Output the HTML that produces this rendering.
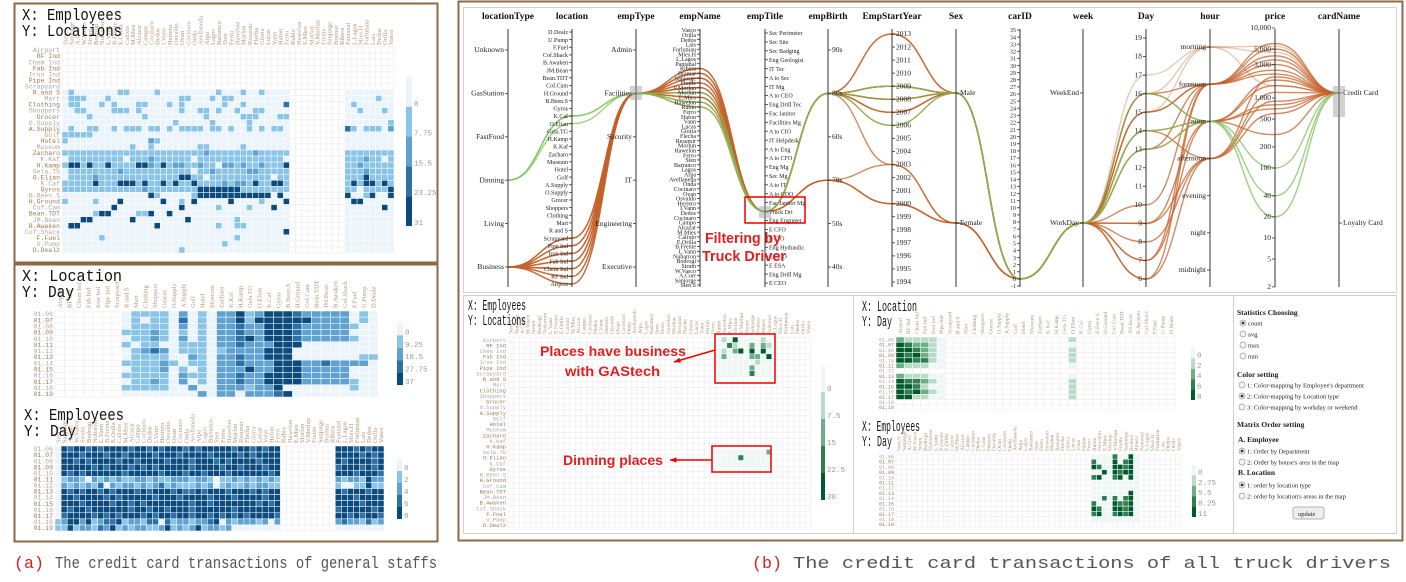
<!DOCTYPE html>
<html><head><meta charset="utf-8">
<style>
html,body{margin:0;padding:0;background:#fff;}
svg{display:block;}
text{font-family:"Liberation Serif","Noto Serif CJK SC",serif;}
.mono{font-family:"Liberation Mono","Noto Sans CJK SC",monospace;}
.sans{font-family:"Liberation Sans","Noto Sans CJK SC",sans-serif;}
</style></head>
<body>
<svg id="chart" width="1406" height="582" viewBox="0 0 1406 582" xmlns="http://www.w3.org/2000/svg">
  <rect x="0" y="0" width="1406" height="582" fill="#fff"/>
  <rect x="14.5" y="3.5" width="423" height="259" fill="#fff" stroke="#8b6a45" stroke-width="2"/>
  <rect x="14.5" y="264.5" width="423" height="277" fill="#fff" stroke="#8b6a45" stroke-width="2"/>
  <rect x="458.5" y="1.5" width="944" height="539" fill="#fff" stroke="#8b6a45" stroke-width="2"/>
  <rect x="463.5" y="7.5" width="933" height="285" fill="#fff" stroke="#d0d0d0" stroke-width="1"/>
  <rect x="463.5" y="295.5" width="390" height="238" fill="#fff" stroke="#d0d0d0"/>
  <rect x="853.5" y="295.5" width="380" height="238" fill="#fff" stroke="#d0d0d0"/>
  <rect x="1233.5" y="295.5" width="163" height="238" fill="#fff" stroke="#d0d0d0"/>
  <g id="content"></g>
</svg>
<script>
// ---------------- DATA ----------------
const locations = ["Airport","RF Ind","Chem Ind","Fab Ind","Iron Ind","Pipe Ind","Scrapyard","R and S","Mart","Clothing","Shoppers","Grocer","O.Supply","A.Supply","Golf","Hotel","Museum","Zacharo","K.Kaf","H.Kamp","Gela.TG","O.Elian","K.Caf","Gyros","B.Been.S","H.Ground","Cof.Cam","Bean.TDT","JM.Bean","B.Awaken","Cof.Shack","F.Fuel","U.Pump","D.Dealz"];
const employees = ["Sten.S","Sanjorge","A.Corr","W.Vasco","Strum","Bodrogi","Nubarron","L.Vann","B.Frente","E.Orilla","Calixto","M.Mies","Alcazar","Campo","Cocinaro","Dedos","I.Vann","Herrero","Osvaldo","Ovan","Cocinaro","Onda","Avellaneda","Arpa","Lagos","Barranco","Sten","Ferro","Hawelon","Morlun","Resumir","Flecha","Gloria","Lucas","Vann","Hafon","Ferro","Rubio","Hawelon","E.Mies","Morlun","V.Morlun","Frente","Sanjorge","Bramar","Ribera","Pantanal","L.Lagos","Mies.H","Forluniau","Lais","Dedos","Orilla","Vasco"];
const days = ["01.06","01.07","01.08","01.09","01.10","01.11","01.12","01.13","01.14","01.15","01.16","01.17","01.18","01.19"];

const aTopA = ["","","","","","","",
"0100000001100001000000000100010010000","0111000100000000000110001011000000000","0110001010001100010100000010010000003",
"0011000011101000000100110100100110000","0000100000000100000000010000011100011","0000000000000000001000001000001000000",
"0100110010111011010111101101001010110","1111100000000000000000000000000000000","1000000000000021000000000000000000000",
"0000000000010010000000110000010000000","1111111111111111111111121111111211111","0111111111011121111110111111111111110",
"1441411411114421412211211022121121114","0111111112111111111110112111112211111","0111121111111111111441101111111111011",
"1111141114441411414114111121221411441","1111111111111211111111444444411111111","0000000000000041000001444444444444040",
"1000010004000000400104000004000010004","0000000040000000000400000100001000400","0000014400001140040000000000000000000",
"0004400000040000000040000000100000000","0440000000000004000000000100110000000","0000000000000000000000000000000000004",
"0000001000000000000000000000100000000","0000000000000000000000000010000000000","0000000000000000000100000000000000000"];
const aTopB = ["","","","","","","",
"00000000","00000100","01000000","00100010","00000000","00000001","31011102","00000000","00000000","00000000",
"11111111","11121101","11211111","11121111","11141111","14144141","11011114","40014004","04400000","00000040",
"00000000","00000000","00000000","00000000","00000000","00000000","00000000"];

const aLocDay = ["0111102010224124443222220103","0101103010224144444422220100","0111102010223224443222221000",
"1112101010223224443222220000","0112102010223424443222221000","1011001110223222444000000000",
"0123201110122224440000000000","0111100210223224440000000110","1111210110223222444223222200",
"0111201010222422444222220000","1111102110223224444222220000","0112102010223224444222221000",
"1111100200222122400000001000","0000000020220222340000000000"];

const aEmpDayA = ["0434434344443443434443434444434434344","0444344434434444344434444344443434444","0443434444344344443444344434344443444",
"0444443434443434344444344443443444344","0434344444434444434443443444344444434","0122102121211221211222122101121212121",
"0212121302122121231211121201211212211","0434344343444343444343343444344434344","0443444434344444344434444344434444344",
"0444344443443434444444344344444443434","0434434444443443443444344444434444444","0344443434344434344344344343434344443",
"1244241233412213303122122340212221202","1141221324121221124121241221200000000"];
const aEmpDayB = ["44434344","44443434","43444434","34443434","44434443","21221422","10011411","43444344","44434444",
"44443444","34444434","44343443","23221312","00000000"];

const bEmpLocBlocks = [
 {row:0,col:37,rows:["0104000010","0031002021","0102404040","0200002204","0000000100","0000002000","0000003000"]},
 {row:20,col:36,rows:["00000000002","00000300000","00000000000"]}];
const bLocDayBlocks = [
 {row:0,col:0,rows:["211110","432210","443210","434210","443310","211100"]},
 {row:7,col:0,rows:["211100","433210","443100","434210","441100"]},
 {row:0,col:21,rows:["1","0","1","1","1","0"]},
 {row:7,col:21,rows:["0","1","1","1","1"]}];
const bEmpDayBlocks = [
 {row:0,col:37,rows:["000030040","300040340","430044340","004043440","340034040","000000000","000000000"]},
 {row:7,col:37,rows:["000000040","003030340","300043340","430044340","340034340","000000000"]}];

const pcAxes = ["locationType","location","empType","empName","empTitle","empBirth","EmpStartYear","Sex","carID","week","Day","hour","price","cardName"];
const locTypes = ["Unknown","GasStation","FastFood","Dinning","Living","Business"];
const empTypes = ["Admin","Facilities","Security","IT","Engineering","Executive"];
const empTitles = ["Sec Perimeter","Sec Site","Sec Badging","Eng Geologist","IT Tec","A to Sec","IT Mg","A to CEO","Eng Drill Tec","Fac Janitor","Facilities Mg","A to CIO","IT Helpdesk","A to Eng","A to CFO","Eng Mg","Sec Mg","A to IT","A to COO","Fac Janitor Mg","Truck Dri","Eng Engineer","E CFO","E CIO","Eng Hydraulic","E COO","E ESA","Eng Drill Mg","E CEO"];
const births = ["90s","80s","60s","70s","50s","40s"];
const startYears = [2013,2012,2011,2010,2009,2008,2007,2006,2005,2004,2003,2002,2001,2000,1999,1998,1997,1996,1995,1994];
const sexes = ["Male","Female"];
const carIds = [35,34,33,32,31,30,29,28,27,26,25,24,23,22,21,20,19,18,17,16,15,14,13,12,11,10,9,8,7,6,5,4,3,2,1,0,-1];
const weeks = ["WeekEnd","WorkDay"];
const dayNums = [19,18,17,16,15,14,13,12,11,10,9,8,7,6];
const hours = ["morning","forenoon","noon","afternoon","evening","night","midnight"];
const priceTicks = [10000,5000,3000,1000,500,200,100,40,20,10,5,2];
const cards = ["Credit Card","Loyalty Card"];
const records = [
[5,27,8,1,2009,0,0,1,16,1,3000,0],[5,28,9,1,2009,0,0,1,15,1,5000,0],[5,29,10,1,2008,0,0,1,14,2,1500,0],
[5,30,11,3,2000,1,0,1,13,2,800,0],[5,31,12,1,2007,0,0,1,9,3,2000,0],[5,32,13,3,2003,1,0,1,8,3,1200,0],
[5,33,14,1,2013,0,0,1,7,1,4000,0],[5,28,15,1,2006,0,0,1,6,3,600,0],[5,29,16,1,2008,0,0,1,10,1,2500,0],
[5,27,9,3,2000,1,0,1,16,2,300,0],[5,30,10,1,2007,0,0,1,15,1,6000,0],[5,32,12,1,2009,0,0,1,9,2,1800,0],
[5,31,8,1,2013,0,0,1,14,3,900,0],[5,29,14,1,2003,1,0,1,13,1,3500,0],[5,33,11,3,2000,1,0,1,7,2,700,0],
[5,27,13,1,2009,0,0,1,6,1,2200,0],[3,11,15,1,2008,0,0,1,16,2,40,0],[3,12,16,1,2006,0,0,1,13,2,20,0],
[5,28,9,1,2009,0,0,1,17,0,5500,0],[5,30,10,1,2007,0,0,1,15,0,4500,0],[5,31,12,1,2008,0,0,1,16,0,1500,0],
[3,11,13,1,2009,0,0,1,14,2,100,0]];

// ---------------- DRAWING ----------------
const NS='http://www.w3.org/2000/svg';
const root=document.getElementById('content');
function mk(tag,attrs,parent){const e=document.createElementNS(NS,tag);for(const k in attrs)e.setAttribute(k,attrs[k]);(parent||root).appendChild(e);return e;}
function txt(s,attrs,parent){const t=mk('text',attrs,parent);t.textContent=s;return t;}
function grp(name){const g=mk('g',{});return g;}

const blues=['#eaf4fa','#8ac4e6','#5fa2d0','#2c72aa','#0b4a7c'];
const greens=['#eef7f6','#b9dcc9','#6cae88','#2f7f50','#005a2b'];

function heat(name,x0,y0,w,h,nR,nC,get,pal){
  const g=grp(name);
  const cw=w/nC,ch=h/nR;
  for(let r=0;r<nR;r++)for(let c=0;c<nC;c++){
    const v=get(r,c);
    const rc=mk('rect',{x:(x0+c*cw).toFixed(2),y:(y0+r*ch).toFixed(2),width:cw.toFixed(2),height:ch.toFixed(2),
      fill:v==null?'#fff':pal[v],stroke:v==null?'#ebebeb':'#fff','stroke-width':0.5},g);
    
    
  }
  return {g,cw,ch};
}
function splitGet(A,B){return (r,c)=>{let s,i;if(c<37){s=A[r];i=c;}else if(c>=46){s=B[r];i=c-46;}else return null;const k=s?s[i]:undefined;return (k===undefined||k==='.')?null:+k;};}
function blockGet(blocks){return (r,c)=>{for(const b of blocks){const rr=r-b.row,cc=c-b.col;if(rr>=0&&rr<b.rows.length&&cc>=0&&cc<b.rows[rr].length)return +b.rows[rr][cc];}return null;};}
function colLabels(name,x0,y0,cw,labels,fs){
  const g=grp(name);
  labels.forEach((l,i)=>{const x=x0+i*cw+cw/2+fs*0.35;
    const t=txt(l,{x:x,y:y0,'font-size':fs,fill:i%2?'#b8906a':'#b0a090',transform:`rotate(-90 ${x} ${y0})`},g);
    
    });
}
function rowLabels(name,x,y0,ch,labels,fs){
  const g=grp(name);
  labels.forEach((l,i)=>{const t=txt(l,{x:x,y:y0+i*ch+ch*0.85,'font-size':fs,'text-anchor':'end',fill:i%2?'#a07850':'#a8a8a8',class:'mono'},g);
    
    });
}
function legend(name,x,y,w,h,pal,labels){
  const g=grp(name);
  const sh=h/5;
  pal.forEach((c,i)=>{const r=mk('rect',{x:x,y:y+i*sh,width:w,height:sh,fill:c},g);
    
    });
  labels.forEach((l,i)=>{const t=txt(l,{x:x+w+2,y:y+(i+1)*sh-1,'font-size':7.5,fill:'#999',class:'mono'},g);
    
    });
}
function heading(name,s,x,y,fs,len){
  const t=txt(s,{x:x,y:y,'font-size':fs,fill:'#111',class:'mono',textLength:len,lengthAdjust:'spacingAndGlyphs'});
  
  
}

heat('a-emp-loc-heatmap',62,47,332,206,34,54,splitGet(aTopA,aTopB),blues);
colLabels('a-emp-loc-col-labels',62,45,332/54,employees,6.5);
rowLabels('a-emp-loc-row-labels',60,47,206/34,locations,6.5);
legend('a-emp-loc-legend',406,77,6,149,blues,['0','7.75','15.5','23.25','31']);
heading('a-top-x-title','X: Employees',22,20,17,100);
heading('a-top-y-title','Y: Locations',22,36,17,100);

heat('a-loc-day-heatmap',55,311,323,86,14,34,(r,c)=>{if(c<7)return null;const k=aLocDay[r][c-7];return k===undefined?null:+k;},blues);
colLabels('a-loc-day-col-labels',55,308,323/34,locations,6.5);
rowLabels('a-loc-day-row-labels',53,311,86/14,days,6.5);
legend('a-loc-day-legend',397,323,6,62,blues,['0','9.25','18.5','27.75','37']);
heading('a-mid-x-title','X: Location',22,281,17,100);
heading('a-mid-y-title','Y: Day',22,297,17,52);

heat('a-emp-day-heatmap',55,446,329,85,14,54,splitGet(aEmpDayA,aEmpDayB),blues);
colLabels('a-emp-day-col-labels',55,443,329/54,employees,6.5);
rowLabels('a-emp-day-row-labels',53,446,85/14,days,6.5);
legend('a-emp-day-legend',397,459,5,60,blues,['0','2','4','6','8']);
heading('a-bot-x-title','X: Employees',24,420,17,100);
heading('a-bot-y-title','Y: Day',24,436,17,52);

heat('b-emp-loc-heatmap',508,337,303,191,34,54,blockGet(bEmpLocBlocks),greens);
colLabels('b-emp-loc-col-labels',508,334,303/54,employees,5.5);
rowLabels('b-emp-loc-row-labels',506,337,191/34,locations,5.5);
legend('b-emp-loc-legend',821,365,4,135,greens,['0','7.5','15','22.5','30']);
heading('b-left-x-title','X: Employees',468,310,15,58);
heading('b-left-y-title','Y: Locations',468,325,15,58);

heat('b-loc-day-heatmap',896,337,279,73,14,34,blockGet(bLocDayBlocks),greens);
colLabels('b-loc-day-col-labels',896,334,279/34,locations,5.5);
rowLabels('b-loc-day-row-labels',894,337,73/14,days,5);
legend('b-loc-day-legend',1191,348,4,52,greens,['0','2','4','6','8']);
heading('b-mid-x-title','X: Location',862,311,15,55);
heading('b-mid-y-title','Y: Day',862,326,15,30);

heat('b-emp-day-heatmap',896,454,285,73,14,54,blockGet(bEmpDayBlocks),greens);
colLabels('b-emp-day-col-labels',896,451,285/54,employees,5.5);
rowLabels('b-emp-day-row-labels',894,454,73/14,days,5);
legend('b-emp-day-legend',1192,465,4,52,greens,['0','2.75','5.5','8.25','11']);
heading('b-bot-x-title','X: Employees',862,431,15,58);
heading('b-bot-y-title','Y: Day',862,446,15,30);

const axX=[508,572,636,700,765,828,892,956,1020,1083,1146,1210,1275,1339];
const AT=29,AB=287;
function catY(n,i,top,bot){return n===1?top:top+i*(bot-top)/(n-1);}
const yLocType=i=>catY(6,i,50,267), yLoc=i=>catY(34,i,32,284), yEmpType=i=>catY(6,i,50,267),
 yName=i=>catY(54,i,30,285), yTitle=i=>catY(29,i,33,283), yBirth=i=>catY(6,i,50,267),
 yYear=v=>catY(20,startYears.indexOf(v),34,282), ySex=i=>catY(2,i,93,223), yCar=v=>catY(37,carIds.indexOf(v),30,286),
 yWeek=i=>catY(2,i,93,223), yDay=v=>catY(14,dayNums.indexOf(v),38,279), yHour=i=>catY(7,i,47,270),
 yPrice=v=>28+70*(4-Math.log10(v)), yCard=i=>catY(2,i,93,223);
const pc=grp('parallel-coordinates');
const lg=mk('g',{fill:'none'},pc);


records.forEach(r=>{
  const ys=[yLocType(r[0]),yLoc(r[1]),yEmpType(1),yName(r[2]),yTitle(20),yBirth(r[3]),yYear(r[4]),ySex(r[5]),yCar(r[6]),yWeek(r[7]),yDay(r[8]),yHour(r[9]),yPrice(r[10]),yCard(r[11])];
  let d=`M${axX[0]},${ys[0]}`;
  for(let i=1;i<ys.length;i++){const dx=(axX[i]-axX[i-1])/2;d+=` C${axX[i-1]+dx},${ys[i-1]} ${axX[i]-dx},${ys[i]} ${axX[i]},${ys[i]}`;}
  const green=r[0]===3;
  const p=mk('path',{d:d,stroke:green?'#7cc35a':'#c4622a','stroke-width':1.4,'stroke-opacity':r[9]===0?0.35:0.75},lg);
  
  
});
const tickSets=[
 [locTypes,yLocType,-1],[locations.slice().reverse(),yLoc,-1],[empTypes,yEmpType,-1],[employees.slice().reverse(),yName,-1],
 [empTitles,yTitle,1],[births,yBirth,1],[startYears.map(String),(i)=>catY(20,i,34,282),1],[sexes,ySex,1],
 [carIds.map(String),(i)=>catY(37,i,30,286),-1],[weeks,yWeek,-1],[dayNums.map(String),(i)=>catY(14,i,38,279),-1],
 [hours,yHour,-1],[priceTicks.map(v=>v.toLocaleString('en-US')),(i)=>yPrice(priceTicks[i]),-1],[cards,yCard,1]];
pcAxes.forEach((name,a)=>{
  const ag=mk('g',{},pc);
  
  
  mk('line',{x1:axX[a],x2:axX[a],y1:AT,y2:AB,stroke:'#333','stroke-width':1},ag);
  const t=txt(name,{x:axX[a],y:19,'font-size':9.5,'font-weight':'bold','text-anchor':'middle',fill:'#111'},ag);
  
  
  const [labs,yf,side]=tickSets[a];
  const fs=labs.length>25?6:7.5;
  labs.forEach((l,i)=>{const y=yf(i);
    mk('line',{x1:axX[a]+side*3,x2:axX[a],y1:y,y2:y,stroke:'#333','stroke-width':0.8},ag);
    const tl=txt(l,{x:axX[a]+side*4,y:y+2.2,'font-size':fs,'text-anchor':side<0?'end':'start',fill:'#222'},ag);
    
    });
});
[[630,86,12,14],[759,206,12,12],[1333,86,12,31]].forEach(b=>{
  const br=mk('rect',{x:b[0],y:b[1],width:b[2],height:b[3],fill:'#999','fill-opacity':0.45},pc);
  
  
});
const ann=grp('annotations');
const rb1=mk('rect',{x:745,y:197,width:60,height:26,fill:'none',stroke:'#e00',"stroke-width":1.5},ann);


[['Filtering by',705,243,76],['Truck Driver',702,261,84]].forEach(a=>{
  const t=txt(a[0],{x:a[1],y:a[2],'font-size':15,'font-weight':'bold',fill:'#e02020',class:'sans',textLength:a[3],lengthAdjust:'spacingAndGlyphs'},ann);
  
  
});
const rb2=mk('rect',{x:715,y:334,width:60,height:49,fill:'none',stroke:'#e00','stroke-width':1.5},ann);


const rb3=mk('rect',{x:712,y:446,width:59,height:26,fill:'none',stroke:'#e00','stroke-width':1.5},ann);


[['Places have business',540,356,146],['with GAStech',565,376,95],['Dinning places',563,465,100]].forEach(a=>{
  const t=txt(a[0],{x:a[1],y:a[2],'font-size':14,'font-weight':'bold',fill:'#e02020',class:'sans',textLength:a[3],lengthAdjust:'spacingAndGlyphs'},ann);
  
  
});
[[715,350,674,362],[712,460,670,460]].forEach(a=>{
  const l=mk('line',{x1:a[0],y1:a[1],x2:a[2],y2:a[3],stroke:'#e00','stroke-width':1.5},ann);
  
  
  const ang=Math.atan2(a[3]-a[1],a[2]-a[0]);
  const p=[[a[2],a[3]],[a[2]-7*Math.cos(ang-0.4),a[3]-7*Math.sin(ang-0.4)],[a[2]-7*Math.cos(ang+0.4),a[3]-7*Math.sin(ang+0.4)]];
  const h=mk('polygon',{points:p.map(q=>q.join(',')).join(' '),fill:'#e00'},ann);
  
  
});

const cp=grp('control-panel');
function cpText(s,x,y,bold,name){const t=txt(s,{x:x,y:y,'font-size':bold?7.5:6.5,'font-weight':bold?'bold':'normal',fill:'#222'},cp);
  
  }
function radio(x,y,checked,label){const c=mk('circle',{cx:x,cy:y,r:3,fill:'#f4f4f4',stroke:'#999','stroke-width':0.7},cp);
  
  
  if(checked)mk('circle',{cx:x,cy:y,r:1.4,fill:'#333'},cp);
  cpText(label,x+5,y+2.3,false,'radio-label');}
cpText('Statistics Choosing',1237,315,true,'statistics-heading');
radio(1243,323,true,'count');radio(1243,334,false,'avg');radio(1243,345,false,'max');radio(1243,356,false,'min');
cpText('Color setting',1237,377,true,'color-setting-heading');
radio(1242,385,false,"1: Color-mapping by Employee's department");
radio(1242,396,true,'2: Color-mapping by Location type');
radio(1242,407,false,'3: Color-mapping by workday or weekend');
cpText('Matrix Order setting',1237,427,true,'matrix-order-heading');
cpText('A. Employee',1238,442,true,'employee-order-heading');
radio(1242,451,true,'1: Order by Department');
radio(1242,462,false,"2: Order by house's area in the map");
cpText('B. Location',1238,475,true,'location-order-heading');
radio(1242,485,true,'1: order by location type');
radio(1242,496,false,"2: order by location's areas in the map");
const ub=mk('rect',{x:1293,y:507,width:31,height:12,rx:2,fill:'#eee',stroke:'#999','stroke-width':0.7},cp);


cpText('update',1298,516,false,'update-button-label');

const cap=grp('captions');
[['(a)',14,568,'#d02020',30],['The credit card transactions of general staffs',55,568,'#555',382],
 ['(b)',752,568,'#d02020',30],['The credit card transactions of all truck drivers',793,568,'#555',598]].forEach(c=>{
  const t=txt(c[0],{x:c[1],y:c[2],'font-size':17,fill:c[3],class:'mono',textLength:c[4],lengthAdjust:'spacingAndGlyphs'},cap);
  
  
});
</script>
</body></html>
